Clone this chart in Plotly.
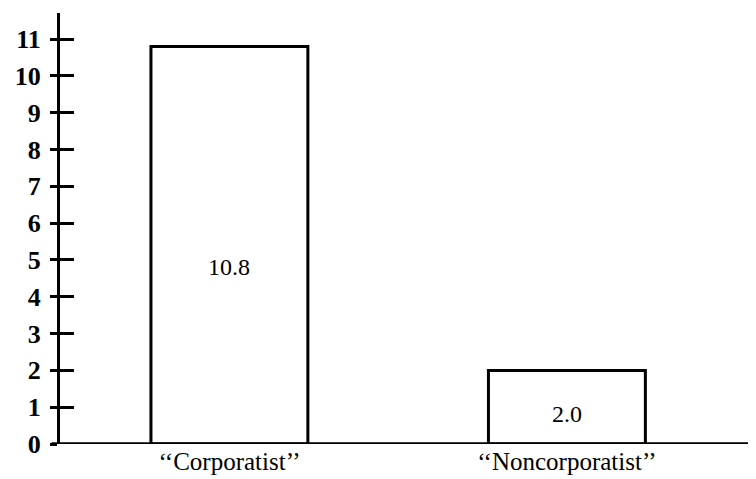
import plotly.graph_objects as go

categories = ["\u2018\u2018Corporatist\u2019\u2019", "\u2018\u2018Noncorporatist\u2019\u2019"]
values = [10.8, 2.0]
value_labels = ["10.8", "2.0"]
y_ticks = list(range(0, 12))

xpos = list(range(len(categories)))
label_y = [4.8, 0.82]
SERIF = "Liberation Serif, Times New Roman, serif"

fig = go.Figure()
fig.add_trace(go.Bar(
    x=xpos, y=values, width=0.465,
    marker=dict(color="white", line=dict(color="black", width=3)),
    hoverinfo="skip", showlegend=False,
))
fig.add_trace(go.Scatter(x=xpos, y=values, mode="none", yaxis="y2",
                         hoverinfo="skip", showlegend=False))

for xv, lab, ly in zip(xpos, value_labels, label_y):
    fig.add_annotation(x=xv, y=ly, text=lab, showarrow=False,
                       font=dict(family=SERIF, size=24, color="black"))

fig.add_shape(type="line", xref="paper", yref="y", x0=-0.012, x1=1, y0=0, y1=0,
              line=dict(color="black", width=3.5))

yrange = [0, 11.71]
fig.update_layout(
    width=756, height=479,
    margin=dict(l=52, r=0, t=5, b=43, autoexpand=False),
    paper_bgcolor="white", plot_bgcolor="white",
    xaxis=dict(range=[-0.502, 1.584], tickvals=xpos, ticktext=categories,
               showgrid=False, zeroline=False, showline=False, ticks="",
               automargin=False,
               tickfont=dict(family=SERIF, size=25, color="black")),
    yaxis=dict(range=yrange, tickvals=y_ticks, showgrid=False, zeroline=False,
               showline=True, linecolor="black", linewidth=3, automargin=False,
               ticks="outside", ticklen=7, tickwidth=2.5, tickcolor="black",
               ticklabelstandoff=4,
               tickfont=dict(family=SERIF, size=26, color="black", weight="bold")),
    yaxis2=dict(range=yrange, overlaying="y", side="left", tickvals=y_ticks,
                showticklabels=False, showgrid=False, zeroline=False, showline=False,
                automargin=False,
                ticks="inside", ticklen=14, tickwidth=2.5, tickcolor="black"),
)
fig.write_html("out.html")
